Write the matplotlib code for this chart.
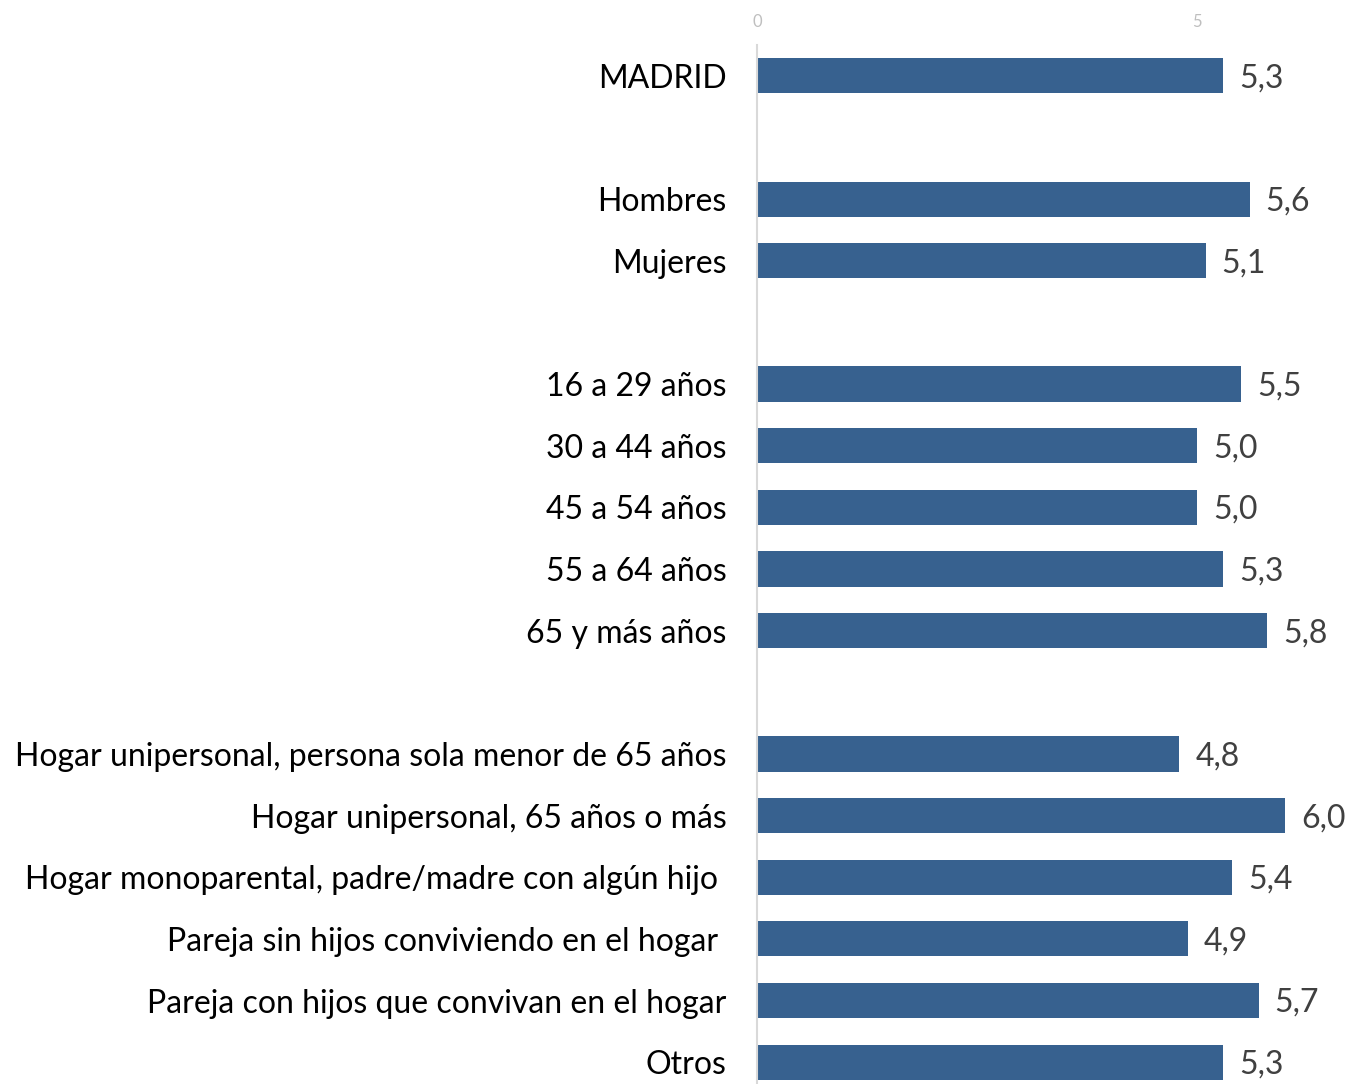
import matplotlib
matplotlib.use("Agg")
import matplotlib.pyplot as plt
import numpy as np

plt.rcParams['font.family'] = ['Lato', 'DejaVu Sans']

# data
categories = ["MADRID", None,
              "Hombres", "Mujeres", None,
              "16 a 29 años", "30 a 44 años", "45 a 54 años", "55 a 64 años", "65 y más años", None,
              "Hogar unipersonal, persona sola menor de 65 años",
              "Hogar unipersonal, 65 años o más",
              "Hogar monoparental, padre/madre con algún hijo ",
              "Pareja sin hijos conviviendo en el hogar ",
              "Pareja con hijos que convivan en el hogar",
              "Otros"]
values = [5.3, None,
          5.6, 5.1, None,
          5.5, 5.0, 5.0, 5.3, 5.8, None,
          4.8, 6.0, 5.4, 4.9, 5.7, 5.3]

bar_color = "#37618F"

fig = plt.figure(figsize=(13.48, 10.84), dpi=100)
ax = fig.add_axes([757/1348, (1084-1093)/1084, 591/1348, (1093-45)/1084])

pos = [i for i, v in enumerate(values) if v is not None]
vals = [values[i] for i in pos]
labs = [categories[i] for i in pos]

ax.barh(pos, vals, height=0.57, color=bar_color)
for p, v in zip(pos, vals):
    ax.text(v + 0.18, p + 0.04, f"{v:.1f}".replace(".", ","), va="center", ha="left",
            fontsize=23, color="#404040")

ax.set_yticks(pos)
ax.set_yticklabels(labs, fontsize=23, color="black")
ax.set_ylim(16.5, -0.5)
ax.set_xlim(0, 591/88)
ax.set_xticks([0, 5])
ax.xaxis.tick_top()
ax.tick_params(axis="x", length=0, labelsize=12, labelcolor="#bfbfbf", pad=11)
ax.tick_params(axis="y", length=0, pad=22)

for s in ["top", "right", "bottom"]:
    ax.spines[s].set_visible(False)
ax.spines["left"].set_color("#d9d9d9")
ax.spines["left"].set_linewidth(1.5)

fig.savefig("out.png", dpi=100)
